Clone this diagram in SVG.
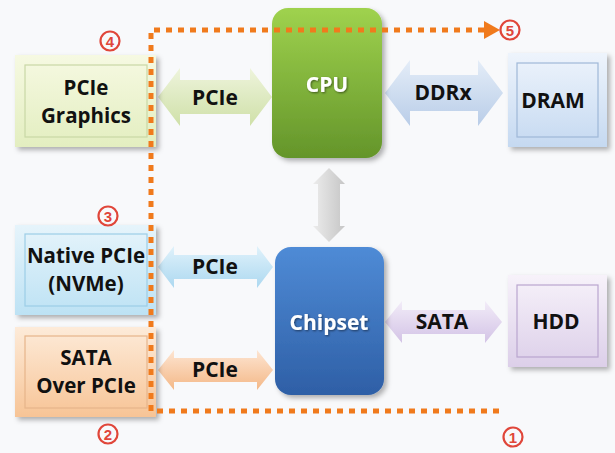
<svg xmlns="http://www.w3.org/2000/svg" width="615" height="453" viewBox="0 0 615 453">
<defs>
<style>
.t{font-family:"Open Sans","Noto Sans","Liberation Sans",sans-serif;font-weight:bold;font-size:21px;fill:#111;text-anchor:middle}
.b{font-size:20.5px}
.w{fill:#fff}
.inner{fill:none;stroke-width:1.2}
.dot{fill:none;stroke:#f07a1c;stroke-width:5;stroke-dasharray:6 6}
.num{fill:none;stroke:#e0463a;stroke-width:2.2}
.nt{font-family:"Liberation Sans",sans-serif;font-weight:bold;font-size:15px;fill:#e0463a;text-anchor:middle}
</style>
<filter id="sh" x="-20%" y="-20%" width="150%" height="150%"><feDropShadow dx="3" dy="3" stdDeviation="2.5" flood-color="#000" flood-opacity="0.3"/></filter>
<filter id="ts"><feDropShadow dx="1" dy="1" stdDeviation="0.8" flood-color="#000" flood-opacity="0.5"/></filter>
<linearGradient id="gGr" x1="0" y1="0" x2="0" y2="1"><stop offset="0" stop-color="#f6f9e2"/><stop offset="1" stop-color="#e3eec0"/></linearGradient>
<linearGradient id="gCpu" x1="0" y1="0" x2="0" y2="1"><stop offset="0" stop-color="#9fd24e"/><stop offset="1" stop-color="#64952a"/></linearGradient>
<linearGradient id="gChip" x1="0" y1="0" x2="0" y2="1"><stop offset="0" stop-color="#4f8bd6"/><stop offset="1" stop-color="#2e5fa6"/></linearGradient>
<linearGradient id="gDram" x1="0" y1="0" x2="0" y2="1"><stop offset="0" stop-color="#eef4fc"/><stop offset="1" stop-color="#c5d9f1"/></linearGradient>
<linearGradient id="gHdd" x1="0" y1="0" x2="0" y2="1"><stop offset="0" stop-color="#f7f2fa"/><stop offset="1" stop-color="#dccfe9"/></linearGradient>
<linearGradient id="gNv" x1="0" y1="0" x2="0" y2="1"><stop offset="0" stop-color="#e6f4fb"/><stop offset="1" stop-color="#bde2f4"/></linearGradient>
<linearGradient id="gSa" x1="0" y1="0" x2="0" y2="1"><stop offset="0" stop-color="#fdebd9"/><stop offset="1" stop-color="#f7c496"/></linearGradient>
<linearGradient id="aGr" x1="0" y1="0" x2="0" y2="1"><stop offset="0" stop-color="#eef4dc"/><stop offset="1" stop-color="#cfe0a8"/></linearGradient>
<linearGradient id="aDd" x1="0" y1="0" x2="0" y2="1"><stop offset="0" stop-color="#e4edf8"/><stop offset="1" stop-color="#b9cde8"/></linearGradient>
<linearGradient id="aNv" x1="0" y1="0" x2="0" y2="1"><stop offset="0" stop-color="#e0f2fb"/><stop offset="1" stop-color="#acd8f0"/></linearGradient>
<linearGradient id="aSa" x1="0" y1="0" x2="0" y2="1"><stop offset="0" stop-color="#fde5d2"/><stop offset="1" stop-color="#f4b887"/></linearGradient>
<linearGradient id="aHd" x1="0" y1="0" x2="0" y2="1"><stop offset="0" stop-color="#f2ecf8"/><stop offset="1" stop-color="#d3c3e6"/></linearGradient>
<linearGradient id="aGy" x1="0" y1="0" x2="1" y2="0"><stop offset="0" stop-color="#ececec"/><stop offset="1" stop-color="#c6c6c6"/></linearGradient>
</defs>
<rect width="615" height="453" fill="#f8f9fb"/>

<g id="connectors">
<g id="arrow-pcie-gfx"><path d="M158,97 L180,68 L180,80 L250,80 L250,68 L272,97 L250,126 L250,114 L180,114 L180,126 Z" fill="url(#aGr)"/><text class="t" x="215" y="105">PCIe</text></g>
<g id="arrow-ddrx"><path d="M385,93 L410,60 L410,75 L478,75 L478,60 L503,93 L478,126 L478,111 L410,111 L410,126 Z" fill="url(#aDd)"/><text class="t" x="443" y="100">DDRx</text></g>
<g id="arrow-cpu-chip"><path d="M329,168 L345,184 L340,184 L340,226 L345,226 L329,242 L313,226 L318,226 L318,184 L313,184 Z" fill="url(#aGy)"/></g>
<g id="arrow-pcie-nvme"><path d="M158,267 L174,246 L174,255 L257,255 L257,246 L273,267 L257,288 L257,279 L174,279 L174,288 Z" fill="url(#aNv)"/><text class="t" x="215" y="274">PCIe</text></g>
<g id="arrow-pcie-sata"><path d="M158,370 L174,350 L174,358 L257,358 L257,350 L273,370 L257,390 L257,382 L174,382 L174,390 Z" fill="url(#aSa)"/><text class="t" x="215" y="377">PCIe</text></g>
<g id="arrow-sata"><path d="M385,322 L402,301 L402,310 L485,310 L485,301 L502,322 L485,343 L485,334 L402,334 L402,343 Z" fill="url(#aHd)"/><text class="t" x="442" y="329">SATA</text></g>
</g>

<g id="pcie-graphics"><rect x="15" y="55" width="141" height="92" fill="url(#gGr)" filter="url(#sh)"/><rect class="inner" x="25" y="65" width="122" height="72" stroke="#c9d8a6"/><text class="t b" x="86" y="95">PCIe</text><text class="t b" x="86" y="123">Graphics</text></g>
<g id="native-pcie"><rect x="15" y="225" width="141" height="90" fill="url(#gNv)" filter="url(#sh)"/><rect class="inner" x="25" y="234" width="122" height="72" stroke="#9ccde6"/><text class="t b" x="86" y="263">Native PCIe</text><text class="t b" x="86" y="291">(NVMe)</text></g>
<g id="sata-over-pcie"><rect x="15" y="327" width="141" height="90" fill="url(#gSa)" filter="url(#sh)"/><rect class="inner" x="25" y="336" width="122" height="72" stroke="#e7b58a"/><text class="t b" x="86" y="365">SATA</text><text class="t b" x="86" y="393">Over PCIe</text></g>
<g id="cpu"><rect x="272" y="8" width="110" height="150" rx="16" fill="url(#gCpu)" filter="url(#sh)"/><text class="t w" x="327" y="92" filter="url(#ts)">CPU</text></g>
<g id="chipset"><rect x="275" y="247" width="109" height="148" rx="16" fill="url(#gChip)" filter="url(#sh)"/><text class="t w" x="329" y="330" filter="url(#ts)">Chipset</text></g>
<g id="dram"><rect x="508" y="53" width="99" height="94" fill="url(#gDram)" filter="url(#sh)"/><rect class="inner" x="517" y="63" width="81" height="74" stroke="#9fb8d8"/><text class="t" x="553" y="108">DRAM</text></g>
<g id="hdd"><rect x="508" y="275" width="99" height="92" fill="url(#gHdd)" filter="url(#sh)"/><rect class="inner" x="517" y="285" width="81" height="72" stroke="#b9a6cf"/><text class="t" x="556" y="329">HDD</text></g>

<g id="path">
<path class="dot" d="M151,411 L151,30 L484,30"/>
<path class="dot" d="M157,411 L500,411"/>
<path d="M484,21 L500,30 L484,39 Z" fill="#f07a1c"/>
</g>
<g id="labels">
<circle class="num" cx="110" cy="41" r="9.5"/><text class="nt" x="110" y="46.5">4</text>
<circle class="num" cx="510" cy="30" r="9.5"/><text class="nt" x="510" y="35.5">5</text>
<circle class="num" cx="108" cy="216" r="9.5"/><text class="nt" x="108" y="221.5">3</text>
<circle class="num" cx="108" cy="434" r="9.5"/><text class="nt" x="108" y="439.5">2</text>
<circle class="num" cx="513" cy="437" r="9.5"/><text class="nt" x="513" y="442.5">1</text>
</g>
</svg>
